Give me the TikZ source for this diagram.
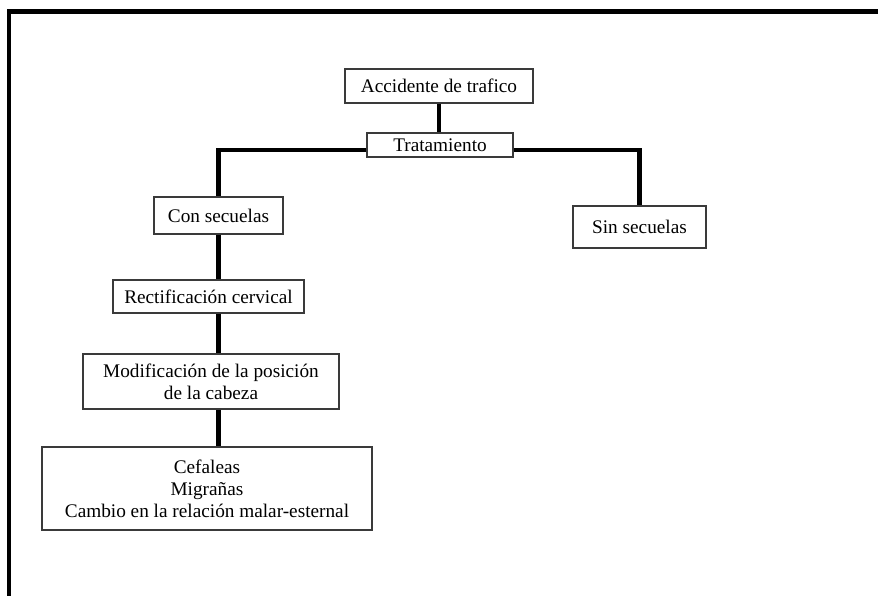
\documentclass[tikz,border=0pt]{standalone}
\usepackage{fontspec}
\setmainfont{Liberation Serif}
\usetikzlibrary{positioning}
\definecolor{boxline}{HTML}{3A3A3A}
\tikzset{
  box/.style={rectangle,draw=boxline,line width=0.8pt,fill=white,align=center,inner sep=2pt,font=\fontsize{13.7}{15.6}\selectfont},
  link/.style={line width=0.12cm,black},
  frame/.style={line width=0.105cm,black}
}

\begin{document}
\begin{tikzpicture}[x=0.025cm,y=-0.025cm]
    \useasboundingbox (0,0) rectangle (878,596);
    \draw[frame] (9,596) -- (9,11.5) -- (878,11.5);

    \node[box,minimum width=4.7cm,minimum height=0.85cm] (acc) at (439,86) {Accidente de trafico};
    \node[box,minimum width=3.65cm,minimum height=0.6cm] (trat) at (440,145) {Tratamiento};
    \node[box,minimum width=3.225cm,minimum height=0.925cm] (con) at (218.5,215.5) {Con secuelas};
    \node[box,minimum width=3.325cm,minimum height=1.05cm] (sin) at (639.5,227) {Sin secuelas};
    \node[box,minimum width=4.775cm,minimum height=0.825cm] (rect) at (208.5,296.5) {Rectificación cervical};
    \node[box,minimum width=6.4cm,minimum height=1.375cm] (mod) at (211,381.5) {Modificación de la posición\\de la cabeza};
    \node[box,minimum width=8.25cm,minimum height=2.075cm] (efe) at (207,488.5) {Cefaleas\\Migrañas\\Cambio en la relación malar-esternal};

    \draw[link] (acc.south -| 439,0) -- (trat.north -| 439,0);
    \draw[link] ([yshift=-0.125cm]trat.west) -| (con.north);
    \draw[link] ([yshift=-0.125cm]trat.east) -| (sin.north);
    \draw[link] (con.south) -- (con.south |- rect.north);
    \draw[link] (con.south |- rect.south) -- (con.south |- mod.north);
    \draw[link] (con.south |- mod.south) -- (con.south |- efe.north);
\end{tikzpicture}
\end{document}
